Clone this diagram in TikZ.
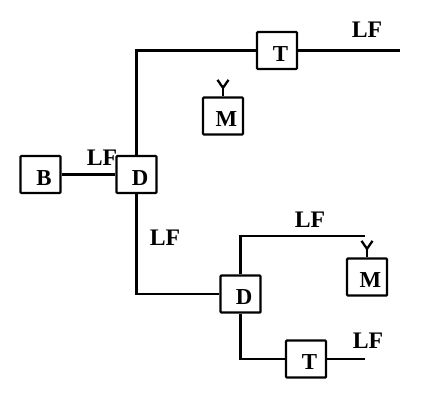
\documentclass[tikz,border=0pt]{standalone}
\usepackage{fontspec}
\setmainfont{Liberation Serif}
\usetikzlibrary{calc}
\tikzset{
  unitbox/.style = {draw=black, fill=white, line width=1.3pt, rounded corners=0.5pt,
                    minimum width=0.8cm, minimum height=0.74cm, inner sep=0pt,
                    text height=0.43cm, text depth=0pt,
                    execute at begin node={\hspace{0.14cm}},
                    font=\fontsize{13}{14}\selectfont\bfseries},
  wire/.style    = {draw=black, line width=1.3pt, line join=miter},
  aerial/.style  = {draw=black, line width=1.3pt},
  lflabel/.style = {font=\fontsize{13.5}{14}\selectfont\bfseries, inner sep=1pt},
}

\begin{document}
\begin{tikzpicture}[x=1cm, y=1cm]
    \useasboundingbox (0,0) rectangle (8.7,8.16);
    \coordinate (ttopend) at (8.0,7.15);
    \coordinate (dlowend) at (7.3,3.44);
    \coordinate (tlowend) at (7.3,0.98);
    \node[unitbox] (bs) at (0.81,4.67) {B};
    \node[unitbox] (dmain) at (2.73,4.67) {D};
    \node[unitbox] (ttop) at (5.54,7.15) {T};
    \node[unitbox] (mtop) at (4.46,5.84) {M};
    \node[unitbox] (dlow) at (4.81,2.28) {D};
    \node[unitbox] (tlow) at (6.12,0.98) {T};
    \node[unitbox] (mlow) at (7.34,2.62) {M};
    % feeders
    \draw[wire] (bs) -- (dmain);
    \draw[wire] (dmain.north) |- (ttop.west);
    \draw[wire] (ttop.east) -- (ttopend);
    \draw[wire] (dmain.south) |- (dlow.west);
    \draw[wire] (dlow.north) |- (dlowend);
    \draw[wire] (dlow.south) |- (tlow.west);
    \draw[wire] (tlow.east) -- (tlowend);
    % aerials
    \foreach \m in {mtop, mlow} {
      \coordinate (\m fork) at ($(\m.north)+(0,0.17)$);
      \draw[aerial] (\m.north) -- (\m fork);
      \draw[aerial] ($(\m fork)+(-0.11,0.16)$) -- (\m fork) -- ($(\m fork)+(0.11,0.16)$);
    }
    \node[lflabel] (lfa) at (7.34,7.56) {LF};
    \node[lflabel] (lfb) at (2.04,5.0) {LF};
    \node[lflabel] (lfc) at (3.3,3.4) {LF};
    \node[lflabel] (lfd) at (6.2,3.76) {LF};
    \node[lflabel] (lfe) at (7.36,1.34) {LF};
  \end{tikzpicture}
\end{document}
